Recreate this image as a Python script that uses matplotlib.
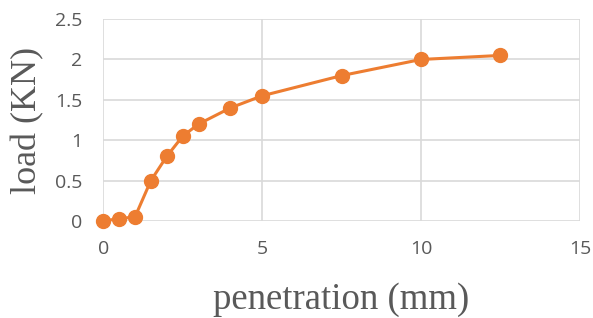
import matplotlib.pyplot as plt

penetration = [0, 0.5, 1, 1.5, 2, 2.5, 3, 4, 5, 7.5, 10, 12.5]
load = [0, 0.03, 0.05, 0.5, 0.8, 1.05, 1.2, 1.4, 1.55, 1.8, 2.0, 2.05]

xticks = [0, 5, 10, 15]
yticks = [0, 0.5, 1, 1.5, 2, 2.5]
ytick_labels = ['0', '0.5', '1', '1.5', '2', '2.5']

fig = plt.figure(figsize=(5.93, 3.18), dpi=100)
ax = fig.add_axes([0.174, 0.305, 0.804, 0.635])

ax.plot(penetration, load, color='#ED7D31', linewidth=2.2,
        marker='o', markersize=10, clip_on=False, zorder=3)

ax.set_xlim(0, 15)
ax.set_ylim(0, 2.5)
ax.set_xticks(xticks)
ax.set_yticks(yticks)
ax.set_yticklabels(ytick_labels)
ax.grid(True, color='#D9D9D9', linewidth=1.2)
ax.set_axisbelow(True)
for s in ax.spines.values():
    s.set_visible(False)
ax.tick_params(length=0, labelsize=14, labelcolor='#595959')
ax.tick_params(axis='x', pad=14)
ax.tick_params(axis='y', pad=15)
for lab in ax.get_xticklabels() + ax.get_yticklabels():
    lab.set_family('Open Sans')

ax.set_xlabel('penetration (mm)', family='Liberation Serif', fontsize=26.5,
              color='#595959', labelpad=17)
ax.set_ylabel('load (KN)', family='Liberation Serif', fontsize=26,
              color='#595959', labelpad=8)

fig.savefig('out.png', dpi=100)
